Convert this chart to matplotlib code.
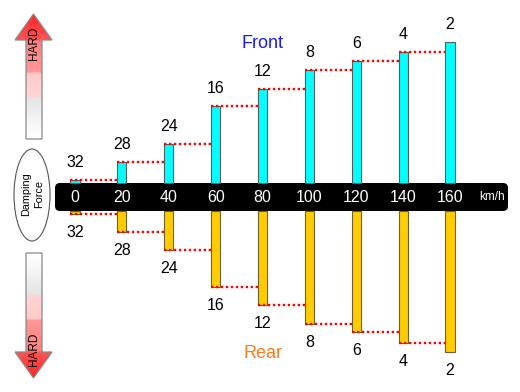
import matplotlib.pyplot as plt
import matplotlib.patches as mpatches
import numpy as np

plt.rcParams['font.family'] = ['Liberation Sans', 'DejaVu Sans']

# data
speeds = [0, 20, 40, 60, 80, 100, 120, 140, 160]
front_clicks = [32, 28, 24, 16, 12, 8, 6, 4, 2]
rear_clicks = [32, 28, 24, 16, 12, 8, 6, 4, 2]
front_force = [3, 21, 39, 77, 94, 113, 122, 131, 141]
rear_force = [3, 21, 39, 76, 94, 113, 121, 132, 141]

fig = plt.figure(figsize=(5.2, 3.92), dpi=100)

# decoration layer in pixel coords
deco = fig.add_axes([0, 0, 1, 1])
deco.set_xlim(0, 520)
deco.set_ylim(392, 0)
deco.axis("off")


def arrow_gradient(d):
    stops = [0, 26, 27, 58, 59, 83, 84, 96, 106, 125]
    r = [255, 255, 255, 255, 255, 255, 228, 236, 245, 255]
    g = [35, 85, 130, 150, 202, 212, 228, 236, 245, 255]
    return np.stack([np.interp(d, stops, r), np.interp(d, stops, g),
                     np.interp(d, stops, g)], axis=-1) / 255.0


def draw_arrow(up):
    if up:
        pts = [(33.5, 14), (52, 40), (42, 40), (42, 139), (26, 139), (26, 40), (15, 40)]
        ys = np.linspace(14, 139, 250)
        d = ys - 14
    else:
        pts = [(26, 253), (42, 253), (42, 352), (52, 352), (33.5, 378), (15, 352), (26, 352)]
        ys = np.linspace(253, 378, 250)
        d = 378 - ys
    col = arrow_gradient(d)
    img = np.repeat(col[:, None, :], 4, axis=1)
    poly = mpatches.Polygon(pts, closed=True, facecolor="none",
                            edgecolor="#8a8a8a", lw=0.9, zorder=3)
    deco.add_patch(poly)
    im = deco.imshow(img, extent=(15, 52, ys[-1], ys[0]), origin="upper",
                     aspect="auto", zorder=2, interpolation="bilinear")
    im.set_clip_path(poly)


draw_arrow(True)
draw_arrow(False)
deco.text(34, 43, "HARD", rotation=90, ha="center", va="center", fontsize=8.5, zorder=4)
deco.text(34, 349, "HARD", rotation=90, ha="center", va="center", fontsize=8.5, zorder=4)

deco.add_patch(mpatches.Ellipse((32, 195), 36, 92, facecolor="white",
                                edgecolor="#555555", lw=0.8))
deco.text(33, 194, "Damping\nForce", rotation=90, ha="center", va="center",
          fontsize=7.8, linespacing=1.35)

deco.add_patch(mpatches.FancyBboxPatch((55, 183), 453, 28,
                                       boxstyle="round,pad=0,rounding_size=5",
                                       facecolor="black", edgecolor="none"))
deco.set_xlim(0, 520)
deco.set_ylim(392, 0)

# chart layer: x in km/h, y in force units (1 unit = 1 px)
ax = fig.add_axes([0, 0, 1, 1])
ax.patch.set_alpha(0)
ax.set_xlim(-32.0, 189.85)
ax.set_ylim(-195, 197)
ax.axis("off")

half = 14
w = 3.9
ax.bar(speeds, front_force, width=w, bottom=half, color="#00ffff",
       edgecolor="#4f6060", lw=0.8, zorder=2)
ax.bar(speeds, [-v for v in rear_force], width=w, bottom=-half, color="#ffcc00",
       edgecolor="#6e6030", lw=0.8, zorder=2)

for i in range(len(speeds) - 1):
    xs = [speeds[i] - w / 2, speeds[i + 1] - w / 2]
    ax.plot(xs, [half + front_force[i]] * 2, color="red", lw=1.7,
            linestyle=(0, (1, 1.1)), zorder=3)
    ax.plot(xs, [-half - rear_force[i]] * 2, color="red", lw=1.7,
            linestyle=(0, (1, 1.1)), zorder=3)

for s, f, r, fc, rc in zip(speeds, front_force, rear_force, front_clicks, rear_clicks):
    ax.annotate(str(fc), (s, half + f), xytext=(0, 12.5), textcoords="offset points",
                ha="center", va="center", fontsize=11.5)
    ax.annotate(str(rc), (s, -half - r), xytext=(0, -13), textcoords="offset points",
                ha="center", va="center", fontsize=11.5)
    ax.text(s, 0, str(s), color="white", ha="center", va="center", fontsize=11.5)

ax.text(178, 0, "km/h", color="white", ha="center", va="center", fontsize=8.5)
ax.text(80, 154, "Front", color="#1a1aff", ha="center", va="center", fontsize=13)
ax.text(80, -157, "Rear", color="#ff7a1a", ha="center", va="center", fontsize=13)

fig.savefig("out.png", dpi=100)
